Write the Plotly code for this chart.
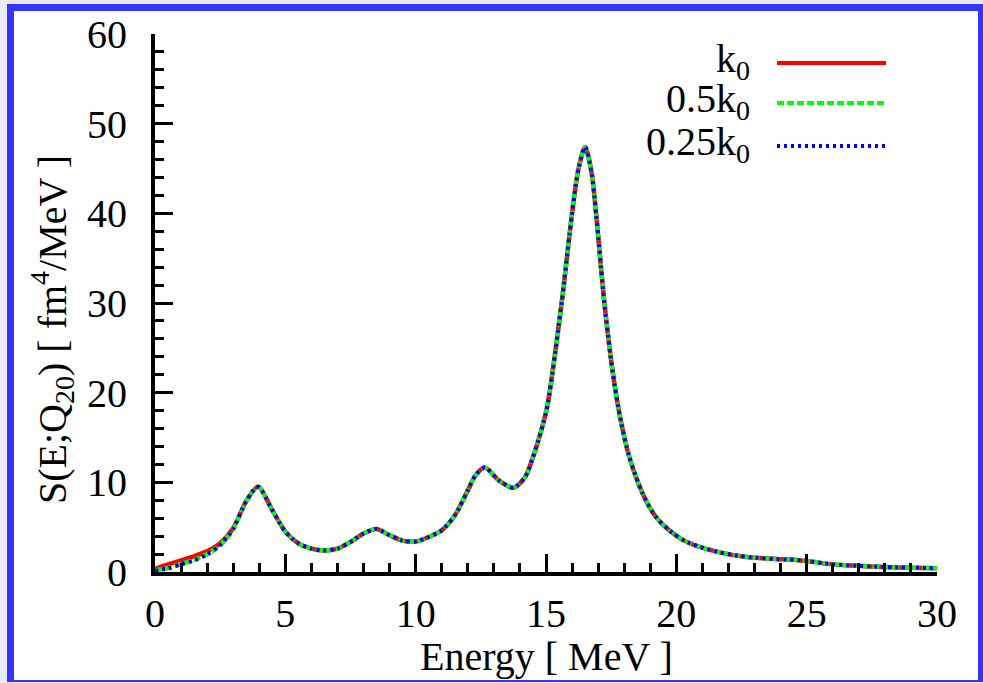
import plotly.graph_objects as go

# ---- data ----
energy = [0, 0.5, 1, 1.5, 2, 2.5, 3, 3.5, 3.95, 4.5, 5, 5.5, 6, 6.5, 7, 7.5, 8, 8.5,
          9, 9.5, 10, 10.5, 11, 11.5, 12, 12.3, 12.65, 13.2, 13.75, 14.2, 14.5, 14.8,
          15.05, 15.6, 16.0, 16.25, 16.5, 16.75, 16.92, 17.24, 17.55, 17.84, 18.2,
          18.7, 19.2, 19.75, 20.3, 20.9, 21.8, 22.8, 23.8, 24.6, 25.2, 26.0, 26.9,
          28.0, 29.0, 30.0]
s_k0 = [0.35, 0.85, 1.3, 1.75, 2.3, 3.2, 4.9, 7.9, 9.5, 6.9, 4.5, 3.2, 2.6, 2.4, 2.6,
        3.35, 4.3, 4.8, 4.1, 3.5, 3.4, 3.9, 4.65, 6.3, 9.1, 10.8, 11.65, 10.2, 9.4,
        10.6, 12.8, 15.6, 18.5, 30.0, 40.0, 45.0, 47.4, 44.5, 40.0, 30.0, 22.5,
        17.3, 12.8, 8.8, 6.2, 4.6, 3.5, 2.8, 2.1, 1.65, 1.45, 1.35, 1.15, 0.85, 0.7,
        0.55, 0.48, 0.42]
s_half = [0.2, 0.45, 0.9, 1.35, 2.0, 3.0, 4.8, 7.9, 9.5, 6.9, 4.5, 3.2, 2.6, 2.4, 2.6,
          3.35, 4.3, 4.8, 4.1, 3.5, 3.4, 3.9, 4.65, 6.3, 9.1, 10.8, 11.65, 10.2, 9.4,
          10.6, 12.8, 15.6, 18.5, 30.0, 40.0, 45.0, 47.4, 44.5, 40.0, 30.0, 22.5,
          17.3, 12.8, 8.8, 6.2, 4.6, 3.5, 2.8, 2.1, 1.65, 1.45, 1.35, 1.15, 0.85, 0.7,
          0.55, 0.48, 0.42]
s_quarter = [0.15, 0.4, 0.85, 1.3, 1.95, 3.0, 4.8, 7.9, 9.5, 6.9, 4.5, 3.2, 2.6, 2.4, 2.6,
             3.35, 4.3, 4.8, 4.1, 3.5, 3.4, 3.9, 4.65, 6.3, 9.1, 10.8, 11.65, 10.2, 9.4,
             10.6, 12.8, 15.6, 18.5, 30.0, 40.0, 45.0, 47.4, 44.5, 40.0, 30.0, 22.5,
             17.3, 12.8, 8.8, 6.2, 4.6, 3.5, 2.8, 2.1, 1.65, 1.45, 1.35, 1.15, 0.85, 0.7,
             0.55, 0.48, 0.42]
series_names = ["k<sub>0</sub>", "0.5k<sub>0</sub>", "0.25k<sub>0</sub>"]
x_ticks = [0, 5, 10, 15, 20, 25, 30]
y_ticks = [0, 10, 20, 30, 40, 50, 60]

# ---- layout geometry ----
W, H = 983, 683
ML, MR, MT, MB = 155, 46, 34, 111
PW, PH = W - ML - MR, H - MT - MB
FONT = "Liberation Serif"


def px2x(px):
    return (px - ML) / PW


def px2y(py):
    return (H - MB - py) / PH


fig = go.Figure()
styles = [
    dict(color="#ff0000", width=4.5, dash="solid"),
    dict(color="#00ff00", width=4.5, dash="7px,3px"),
    dict(color="#0000ff", width=4, dash="3px,4px"),
]
for ys, st, nm in zip([s_k0, s_half, s_quarter], styles, series_names):
    fig.add_trace(go.Scatter(x=energy, y=ys, mode="lines", name=nm,
                             line=dict(shape="spline", smoothing=0.8, **st),
                             showlegend=False))

shapes = [
    # outer blue frame and white inner panel
    dict(type="rect", xref="paper", yref="paper", layer="below",
         x0=px2x(7), x1=px2x(984), y0=px2y(682), y1=px2y(4),
         fillcolor="#3535ff", line=dict(width=0)),
    dict(type="rect", xref="paper", yref="paper", layer="below",
         x0=px2x(14), x1=px2x(978), y0=px2y(680), y1=px2y(11),
         fillcolor="white", line=dict(width=0)),
]
annotations = []
legend_rows = [63, 103, 146]
for nm, st, ry in zip(series_names, styles, legend_rows):
    shapes.append(dict(type="line", xref="paper", yref="paper",
                       x0=px2x(777), x1=px2x(886), y0=px2y(ry), y1=px2y(ry),
                       line=dict(color=st["color"], width=4, dash=st["dash"])))
    annotations.append(dict(xref="paper", yref="paper", x=px2x(752), y=px2y(ry - 2),
                            xanchor="right", yanchor="middle", showarrow=False,
                            text=nm, font=dict(family=FONT, size=40, color="black")))

annotations.append(dict(xref="paper", yref="paper", x=px2x(546), y=px2y(656),
                        xanchor="center", yanchor="middle", showarrow=False,
                        text="Energy [ MeV ]",
                        font=dict(family=FONT, size=40, color="black")))
annotations.append(dict(xref="paper", yref="paper", x=px2x(52), y=px2y(330),
                        xanchor="center", yanchor="middle", showarrow=False,
                        textangle=-90,
                        text="S(E;Q<sub>20</sub>) [ fm<sup>4</sup>/MeV ]",
                        font=dict(family=FONT, size=40, color="black")))

axis_common = dict(showgrid=False, zeroline=False, showline=True, linecolor="black",
                   linewidth=4, ticks="inside", ticklen=18, tickwidth=3,
                   tickcolor="black", tickfont=dict(family=FONT, size=40, color="black"),
                   mirror=False)

fig.update_layout(
    width=W, height=H,
    margin=dict(l=ML, r=MR, t=MT, b=MB, pad=0),
    paper_bgcolor="#e9e9fb",
    plot_bgcolor="rgba(0,0,0,0)",
    shapes=shapes,
    annotations=annotations,
    xaxis=dict(range=[0, 30], tickvals=x_ticks, ticktext=[str(v) for v in x_ticks],
               minor=dict(dtick=1, ticks="inside", ticklen=9, tickwidth=3,
                          tickcolor="black"),
               ticklabelstandoff=3, **axis_common),
    yaxis=dict(range=[0, 60], tickvals=y_ticks, ticktext=[str(v) for v in y_ticks],
               minor=dict(dtick=2, ticks="inside", ticklen=9, tickwidth=3,
                          tickcolor="black"),
               ticklabelstandoff=16, **axis_common),
)

fig.write_html("out.html")
